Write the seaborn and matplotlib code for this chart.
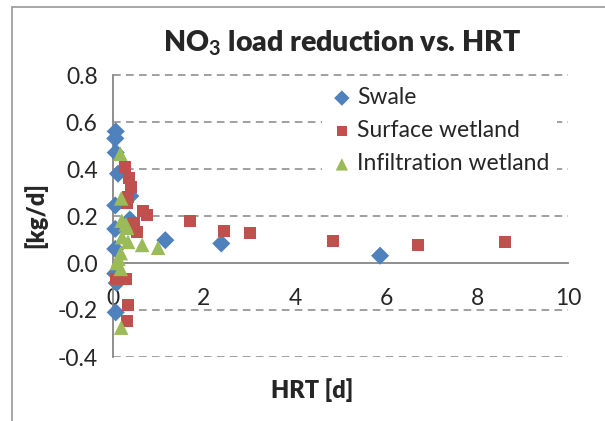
import pandas as pd
import matplotlib
matplotlib.use('Agg')
import matplotlib.pyplot as plt
import seaborn as sns
from matplotlib.lines import Line2D

# HRT [d] and NO3 load reduction [kg/d]
swale_hrt = [0.06, 0.05, 0.06, 0.11, 0.05, 0.38, 0.05, 0.37, 0.05, 1.15, 2.38, 5.87, 0.05, 0.08, 0.06]
swale_load = [0.56, 0.53, 0.47, 0.38, 0.245, 0.285, 0.145, 0.185, 0.06, 0.097, 0.083, 0.031, -0.045, -0.085, -0.21]

surface_hrt = [0.26, 0.35, 0.39, 0.33, 0.30, 0.66, 0.74, 0.46, 0.53, 1.69, 2.43, 3.02, 4.83, 6.71, 8.62, 0.06, 0.29, 0.33, 0.30]
surface_load = [0.41, 0.36, 0.325, 0.28, 0.255, 0.22, 0.205, 0.17, 0.13, 0.18, 0.135, 0.128, 0.095, 0.078, 0.089, -0.07, -0.07, -0.18, -0.245]

infil_hrt = [0.16, 0.18, 0.19, 0.28, 0.31, 0.20, 0.33, 0.64, 0.99, 0.17, 0.12, 0.08, 0.17, 0.18]
infil_load = [0.465, 0.275, 0.18, 0.165, 0.15, 0.11, 0.09, 0.077, 0.065, 0.042, 0.018, 0.0, -0.025, -0.275]

series_names = ['Swale', 'Surface wetland', 'Infiltration wetland']
colors = ['#4F81BD', '#C0504D', '#9BBB59']
markers = ['D', 's', '^']
sizes = [85, 75, 110]

sns.set_style('white')
plt.rcParams['font.family'] = ['Lato', 'DejaVu Sans']
plt.rcParams['axes.unicode_minus'] = False
plt.rcParams['mathtext.fontset'] = 'custom'
plt.rcParams['mathtext.rm'] = 'Lato'
plt.rcParams['mathtext.bf'] = 'Lato:bold'

df = pd.DataFrame({
    'hrt': swale_hrt + surface_hrt + infil_hrt,
    'load': swale_load + surface_load + infil_load,
    'system': [series_names[0]] * len(swale_hrt) + [series_names[1]] * len(surface_hrt) + [series_names[2]] * len(infil_hrt),
})

fig = plt.figure(figsize=(6.05, 4.21), dpi=100)
ax = fig.add_axes([113 / 605, 1 - 357 / 421, 455 / 605, 282 / 421])

for name, c, m, s in zip(series_names, colors, markers, sizes):
    sub = df[df['system'] == name]
    sns.scatterplot(data=sub, x='hrt', y='load', ax=ax, color=c, marker=m, s=s,
                    edgecolor='none', linewidth=0, label=name, zorder=3, clip_on=False)

axis_grey = '#868686'
ax.set_xlim(0, 10)
ax.set_ylim(-0.4, 0.8)
ax.set_xticks([0, 2, 4, 6, 8, 10])
ax.set_yticks([-0.4, -0.2, 0.0, 0.2, 0.4, 0.6, 0.8])
ax.yaxis.set_major_formatter(matplotlib.ticker.FormatStrFormatter('%.1f'))
for y in [-0.4, -0.2, 0.2, 0.4, 0.6]:
    ax.axhline(y, color=axis_grey, lw=1.1, ls=(0, (5, 3.5)), zorder=1)
# top gridline stays visible above the legend box
ax.axhline(0.8, color=axis_grey, lw=1.1, ls=(0, (5, 3.5)), zorder=6, clip_on=False)

for side in ['top', 'right']:
    ax.spines[side].set_visible(False)
ax.spines['bottom'].set_position(('data', 0))
ax.spines['left'].set_position(('data', 0))
for side in ['bottom', 'left']:
    ax.spines[side].set_color(axis_grey)
    ax.spines[side].set_linewidth(1.3)
    ax.spines[side].set_zorder(2)
ax.tick_params(axis='x', direction='out', length=5, width=1.3, color=axis_grey, pad=13, labelsize=16.5)
ax.tick_params(axis='y', direction='out', length=5, width=1.3, color=axis_grey, pad=6, labelsize=16.5)
ax.set_xlabel('')
ax.set_ylabel('')

leg = ax.legend(loc='upper left', bbox_to_anchor=(0.435, 1.014, 0.565, 0.0), mode='expand',
                frameon=True, fontsize=16.5, handletextpad=0.0, labelspacing=0.53,
                borderpad=0.2, handlelength=1.3, markerscale=0.85)
leg.get_frame().set_facecolor('white')
leg.get_frame().set_edgecolor('none')
leg.get_frame().set_alpha(1)
leg.set_zorder(5)

fig.text(342 / 605, 1 - 43 / 421, r'NO$_\mathbf{3}$ load reduction vs. HRT', ha='center', va='center',
         fontsize=20.5, fontweight='heavy')
fig.text(35 / 605, 1 - 215 / 421, '[kg/d]', ha='center', va='center', rotation=90,
         fontsize=17, fontweight='heavy')
fig.text(312 / 605, 1 - 390 / 421, 'HRT [d]', ha='center', va='center', fontsize=17, fontweight='heavy')

# outer chart border (only left and top visible in the crop)
fig.add_artist(Line2D([12 / 605, 12 / 605], [0, 1 - 7 / 421], color='#9a9a9a', lw=1.2))
fig.add_artist(Line2D([12 / 605, 1], [1 - 7 / 421, 1 - 7 / 421], color='#9a9a9a', lw=1.2))

fig.savefig('out.png', dpi=100)
